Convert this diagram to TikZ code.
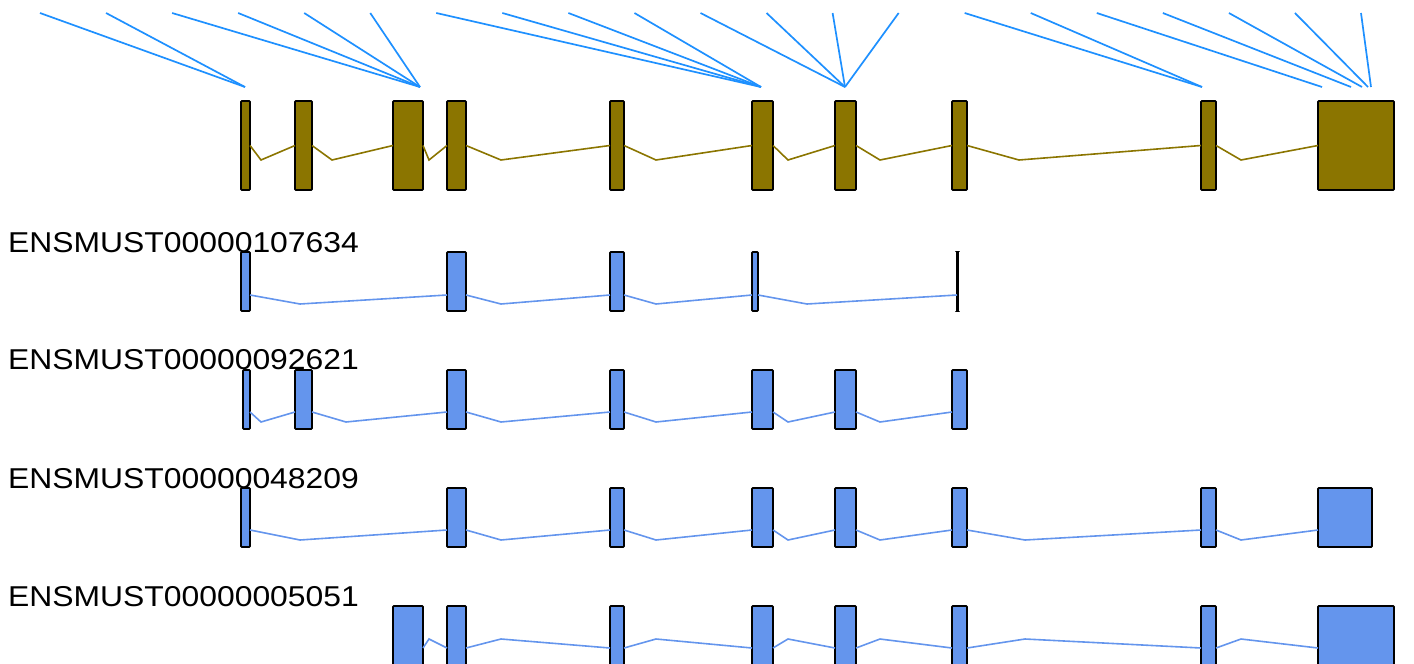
\documentclass[tikz,border=0pt]{standalone}
\usepackage{fontspec}
\setmainfont{Liberation Sans}
\usetikzlibrary{positioning}

\definecolor{goldfour}{RGB}{139,117,0}
\definecolor{cornflower}{RGB}{100,149,237}
\definecolor{hitblue}{RGB}{30,144,255}

\begin{document}
\begin{tikzpicture}[x=1pt,y=-1pt,
     exon/.style = {draw=black, line width=1.8pt, rounded corners=0.8pt,% one exon box
                    inner sep=0pt, outer sep=0pt, anchor=north west},
     gene/.style = {exon, fill=goldfour, minimum height=89},
       tx/.style = {exon, fill=cornflower, minimum height=59},
   intron/.style = {line width=1.6pt},
      hit/.style = {draw=hitblue, line width=1.7pt},
      lbl/.style = {anchor=base west, inner sep=0pt,
                    font=\fontsize{28.7}{30}\selectfont},
                    ]
\useasboundingbox (0,0) rectangle (1414,664);
\clip (0,0) rectangle (1414,664);

% merged gene model
\foreach \n/\a/\b in {1/241/250, 2/295/312, 3/393/423, 4/447/466, 5/610/624,
                      6/752/773, 7/835/856, 8/952/967, 9/1201/1216, 10/1318/1394}
    \node[gene, minimum width=\b-\a] (g\n) at (\a,101) {};
\foreach \p/\d/\q in {1/261/2, 2/332/3, 3/429/4, 4/501/5, 5/656/6,
                      6/788/7, 7/880/8, 8/1019/9, 9/1241/10}
    \draw[intron, goldfour] (g\p.east) -- (\d,160) -- (g\q.west);

% transcripts
\coordinate (ra) at (0,295);
\coordinate (rb) at (0,412);
\coordinate (rc) at (0,530);
\coordinate (rd) at (0,648);

\node[lbl] (la) at (8,252) {\scalebox{1.11}[1]{ENSMUST00000107634}};
\node[lbl] (lb) at (8,369) {\scalebox{1.11}[1]{ENSMUST00000092621}};
\node[lbl] (lc) at (8,488) {\scalebox{1.11}[1]{ENSMUST00000048209}};
\node[lbl] (ld) at (8,606) {\scalebox{1.11}[1]{ENSMUST00000005051}};

\foreach \n/\a/\b in {1/241/250, 2/447/466, 3/610/624, 4/752/758, 5/957/958}
    \node[tx, minimum width=\b-\a] (a\n) at (\a,252) {};
\foreach \n/\a/\b in {1/243/250, 2/295/312, 3/447/466, 4/610/624, 5/752/773,
                      6/835/856, 7/952/967}
    \node[tx, minimum width=\b-\a] (b\n) at (\a,370) {};
\foreach \n/\a/\b in {1/241/250, 2/447/466, 3/610/624, 4/752/773, 5/835/856,
                      6/952/967, 7/1201/1216, 8/1318/1372}
    \node[tx, minimum width=\b-\a] (c\n) at (\a,488) {};
\foreach \n/\a/\b in {1/393/423, 2/447/466, 3/610/624, 4/752/773, 5/835/856,
                      6/952/967, 7/1201/1216, 8/1318/1394}
    \node[tx, minimum width=\b-\a] (d\n) at (\a,606) {};

\foreach \p/\d/\q in {1/300/2, 2/501/3, 3/656/4, 4/807/5}
    \draw[intron, cornflower] (a\p.east |- ra) -- (\d,304) -- (a\q.west |- ra);
\foreach \p/\d/\q in {1/261/2, 2/346/3, 3/501/4, 4/656/5, 5/788/6, 6/880/7}
    \draw[intron, cornflower] (b\p.east |- rb) -- (\d,422) -- (b\q.west |- rb);
\foreach \p/\d/\q in {1/300/2, 2/501/3, 3/656/4, 4/788/5, 5/880/6, 6/1025/7, 7/1241/8}
    \draw[intron, cornflower] (c\p.east |- rc) -- (\d,540) -- (c\q.west |- rc);
\foreach \p/\d/\q in {1/429/2, 2/501/3, 3/656/4, 4/788/5, 5/880/6, 6/1025/7, 7/1241/8}
    \draw[intron, cornflower] (d\p.east |- rd) -- (\d,639) -- (d\q.west |- rd);

% hits on top
\foreach \n/\x in {1/245, 2/420, 3/761, 4/845, 5/1202,
                   6/1322, 7/1351, 8/1362, 9/1368, 10/1371}
    \coordinate (p\n) at (\x,87);
\foreach \i/\n in {1/1, 2/1, 3/2, 4/2, 5/2, 6/2, 7/3, 8/3, 9/3, 10/3, 11/4,
                   12/4, 13/4, 14/4, 15/5, 16/5, 17/6, 18/7, 19/8, 20/9, 21/10}
{
    \coordinate (h\i) at ({40+66.05*(\i-1)},13);
    \draw[hit] (h\i) -- (p\n);
}
\end{tikzpicture}
\end{document}
